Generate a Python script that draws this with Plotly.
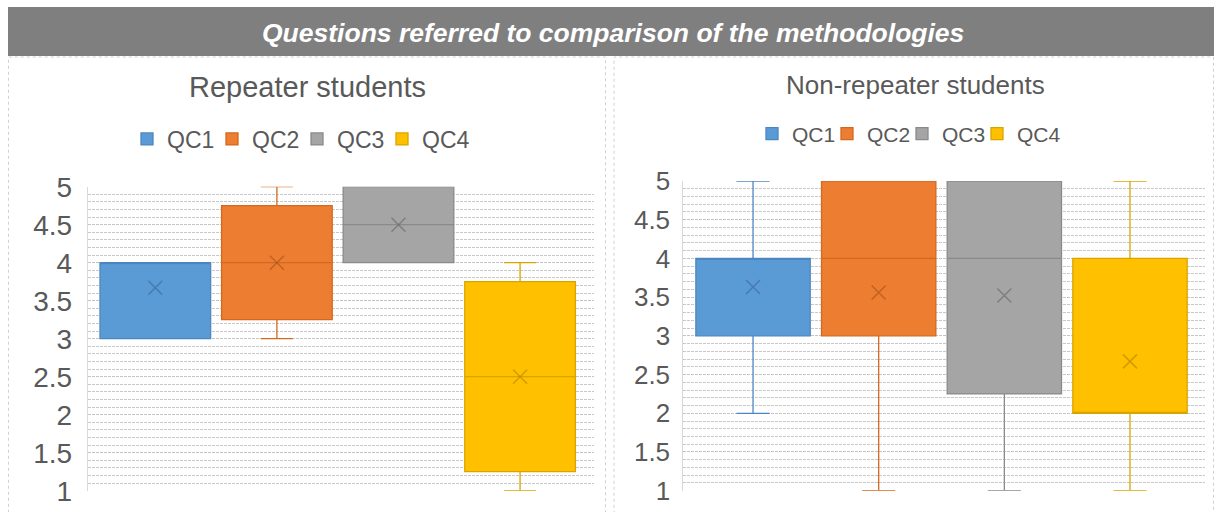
import plotly.graph_objects as go

# ---------------- data ----------------
categories = ["QC1", "QC2", "QC3", "QC4"]

# Repeater students
rep_min = [3, 3, 4, 1]
rep_q1 = [3, 3.25, 4, 1.25]
rep_median = [4, 4, 4.5, 2.5]
rep_q3 = [4, 4.75, 5, 3.75]
rep_max = [4, 5, 5, 4]
rep_mean = [3.67, 4.0, 4.5, 2.5]

# Non-repeater students
non_min = [2, 1, 1, 1]
non_q1 = [3, 3, 2.25, 2]
non_median = [4, 4, 4, 2]
non_q3 = [4, 5, 5, 4]
non_max = [5, 5, 5, 5]
non_mean = [3.63, 3.56, 3.52, 2.67]

y_ticks = [1, 1.5, 2, 2.5, 3, 3.5, 4, 4.5, 5]

# ---------------- styles ----------------
FONT = "Liberation Sans, Arial, sans-serif"
TXT = "#595959"
fills = ["#5B9BD5", "#ED7D31", "#A5A5A5", "#FFC000"]
lines = ["#4C86C0", "#D2691F", "#8A8A8A", "#DAA400"]
darks = ["rgba(50,90,140,0.5)", "rgba(150,70,20,0.5)", "rgba(90,90,90,0.5)", "rgba(170,120,0,0.5)"]

W, H = 1214, 512


def px_x(v):
    return v / W


def px_y(v):
    return 1 - v / H


fig = go.Figure()

panels = [
    dict(xa="x", ya="y", leg0=1, text_x=167, step=85, leg_y=139, fsize=23,
         mn=rep_min, q1=rep_q1, md=rep_median, q3=rep_q3, mx=rep_max, mean=rep_mean),
    dict(xa="x2", ya="y2", leg0=5, text_x=792, step=75, leg_y=134, fsize=21,
         mn=non_min, q1=non_q1, md=non_median, q3=non_q3, mx=non_max, mean=non_mean),
]

legend_layouts = {}
for p in panels:
    for i, cat in enumerate(categories):
        n = p["leg0"] + i
        lname = "legend" if n == 1 else f"legend{n}"
        fig.add_trace(go.Box(
            x=[cat], q1=[p["q1"][i]], median=[p["md"][i]], q3=[p["q3"][i]],
            lowerfence=[p["mn"][i]], upperfence=[p["mx"][i]],
            name=cat, boxpoints=False, width=0.91, whiskerwidth=0.29,
            fillcolor=fills[i], line=dict(color=lines[i], width=1.3),
            xaxis=p["xa"], yaxis=p["ya"], legend=lname,
            showlegend=True, hoverinfo="skip",
        ))
        legend_layouts[lname] = dict(
            orientation="h", x=px_x(p["text_x"] + p["step"] * i - 40), xanchor="left",
            y=px_y(p["leg_y"]), yanchor="middle",
            font=dict(family=FONT, size=p["fsize"], color=TXT),
            bgcolor="rgba(0,0,0,0)", itemwidth=30,
        )
    for i, cat in enumerate(categories):
        fig.add_trace(go.Scatter(
            x=[cat], y=[p["mean"][i]], mode="markers",
            marker=dict(symbol="x-thin", size=14, line=dict(width=1.5, color=darks[i])),
            xaxis=p["xa"], yaxis=p["ya"], showlegend=False, hoverinfo="skip",
        ))

common_y = dict(
    range=[1, 5], tickvals=y_ticks, ticktext=[f"{t:g}" for t in y_ticks],
    showgrid=True, gridcolor="#C4C4C4", griddash="3px,1px", gridwidth=1, zeroline=False,
    minor=dict(dtick=0.1, showgrid=True, gridcolor="#C8C8C8", griddash="3px,1px", gridwidth=1),
    showline=True, linecolor="#D9D9D9", linewidth=1,
    ticks="", fixedrange=True, automargin=False,
)
common_x = dict(type="category", categoryorder="array", categoryarray=categories,
                showticklabels=False, showgrid=False, zeroline=False, showline=False,
                ticks="", automargin=False, fixedrange=True)

fig.update_layout(
    width=W, height=H, margin=dict(l=0, r=0, t=0, b=0, autoexpand=False),
    paper_bgcolor="white", plot_bgcolor="white",
    boxmode="overlay",
    xaxis=dict(domain=[px_x(87.7), px_x(594)], anchor="y", range=[-0.556, 3.608], **common_x),
    yaxis=dict(domain=[px_y(490.7), px_y(186.7)], anchor="x",
               tickfont=dict(family=FONT, size=28, color=TXT), ticklabelstandoff=9,
               **common_y),
    xaxis2=dict(domain=[px_x(683.3), px_x(1205)], anchor="y2", range=[-0.555, 3.597], **common_x),
    yaxis2=dict(domain=[px_y(490.7), px_y(181)], anchor="x2",
                tickfont=dict(family=FONT, size=26, color=TXT), ticklabelstandoff=7,
                **common_y),
    showlegend=True,
    **legend_layouts,
)

# title bar and panel borders
fig.add_shape(type="rect", xref="paper", yref="paper",
              x0=px_x(8), x1=1.0, y0=px_y(56), y1=px_y(7),
              fillcolor="#7F7F7F", line=dict(width=0), layer="below")
fig.add_shape(type="rect", xref="paper", yref="paper",
              x0=px_x(8.5), x1=px_x(605.5), y0=-0.02, y1=px_y(57),
              fillcolor="rgba(0,0,0,0)", line=dict(color="#D0D0D0", width=1, dash="dot"), layer="below")
fig.add_shape(type="rect", xref="paper", yref="paper",
              x0=px_x(614), x1=px_x(1213.5), y0=-0.02, y1=px_y(57),
              fillcolor="rgba(0,0,0,0)", line=dict(color="#D0D0D0", width=1, dash="dot"), layer="below")

fig.add_annotation(text="Questions referred to comparison of the methodologies",
                   xref="paper", yref="paper", x=px_x(613), y=px_y(33),
                   xanchor="center", yanchor="middle", showarrow=False,
                   font=dict(family=FONT, size=26.5, color="white", weight="bold", style="italic"))
fig.add_annotation(text="Repeater students", xref="paper", yref="paper",
                   x=px_x(307.5), y=px_y(87), xanchor="center", yanchor="middle", showarrow=False,
                   font=dict(family=FONT, size=29, color=TXT))
fig.add_annotation(text="Non-repeater students", xref="paper", yref="paper",
                   x=px_x(915), y=px_y(85), xanchor="center", yanchor="middle", showarrow=False,
                   font=dict(family=FONT, size=26, color=TXT))

fig.write_html("out.html")
